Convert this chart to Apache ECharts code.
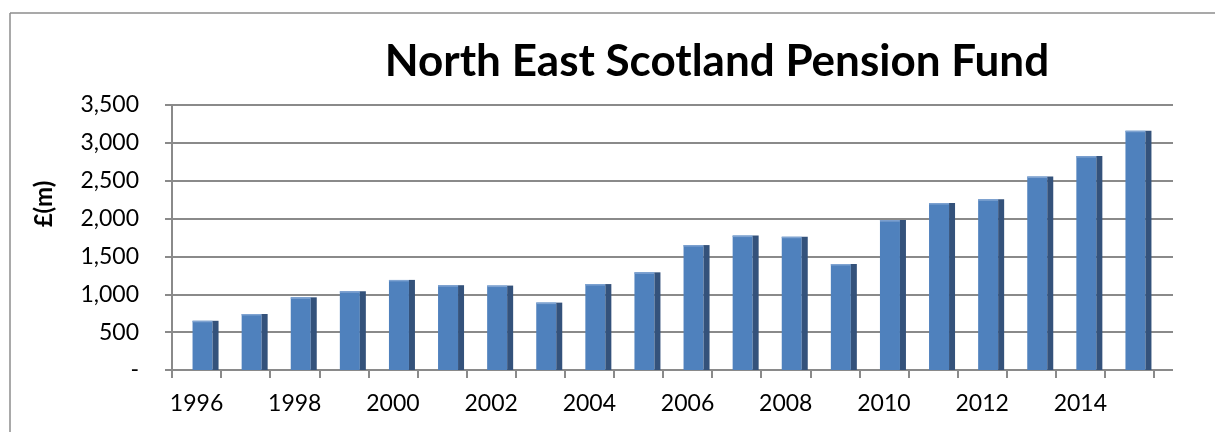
<!DOCTYPE html>
<html>
<head>
<meta charset="utf-8">
<script src="https://cdn.jsdelivr.net/npm/echarts@6/dist/echarts.min.js"></script>
<style>
html,body{margin:0;padding:0;background:#fff;}
#chart{width:1215px;height:432px;}
</style>
</head>
<body>
<div id="chart"></div>
<script>
const titleText = 'North East Scotland Pension Fund';
const yAxisTitle = '£(m)';
const years = ['1996','1997','1998','1999','2000','2001','2002','2003','2004','2005',
               '2006','2007','2008','2009','2010','2011','2012','2013','2014','2015'];
const fundValues = [650, 740, 960, 1040, 1190, 1120, 1115, 890, 1135, 1290,
                    1650, 1775, 1760, 1400, 1980, 2205, 2255, 2555, 2825, 3160];
const yMin = 0, yMax = 3500, yStep = 500;

const chart = echarts.init(document.getElementById('chart'), null, {renderer: 'canvas'});
const FONT = 'Lato';
const gridColor = '#8a8a8a';

const option = {
  animation: false,
  backgroundColor: '#fff',
  title: {
    text: titleText,
    left: 712, top: 35, textAlign: 'center',
    textStyle: {fontFamily: FONT, fontWeight: 'bold', fontSize: 44, color: '#000'}
  },
  graphic: [
    {type: 'line', shape: {x1: 10, y1: 13, x2: 1215, y2: 13}, style: {stroke: '#8c8c8c', lineWidth: 1.5}},
    {type: 'line', shape: {x1: 10, y1: 13, x2: 10, y2: 432}, style: {stroke: '#8c8c8c', lineWidth: 1.5}},
    {type: 'text', x: 44, y: 204, rotation: Math.PI / 2,
     style: {text: yAxisTitle, fontFamily: FONT, fontWeight: 'bold', fontSize: 24, fill: '#000',
             align: 'center', verticalAlign: 'middle'}}
  ],
  grid: [
    {left: 172, right: 42, top: 105, bottom: 62, containLabel: false},
    {left: 172, right: 61, top: 105, bottom: 62, containLabel: false}
  ],
  xAxis: [
    {type: 'category', gridIndex: 0, data: years, show: false},
    {type: 'category', gridIndex: 1, data: years, boundaryGap: true,
     axisLine: {show: true, lineStyle: {color: gridColor, width: 2}},
     axisTick: {show: true, alignWithLabel: false, interval: 0, length: 8, lineStyle: {color: gridColor, width: 2}},
     axisLabel: {interval: 1, margin: 22, fontFamily: FONT, fontSize: 23, color: '#000'}
    }
  ],
  yAxis: [
    {type: 'value', gridIndex: 0, min: yMin, max: yMax, interval: yStep,
     axisLine: {show: true, lineStyle: {color: gridColor, width: 2}},
     axisTick: {show: true, length: 7, lineStyle: {color: gridColor, width: 2}},
     splitLine: {show: true, lineStyle: {color: gridColor, width: 2}},
     axisLabel: {margin: 33, fontFamily: FONT, fontSize: 23, color: '#000',
       formatter: v => v === 0 ? '-' : v.toLocaleString('en-US')}
    },
    {type: 'value', gridIndex: 1, min: yMin, max: yMax, interval: yStep, show: false, splitLine: {show: false}}
  ],
  series: [{
    type: 'custom',
    xAxisIndex: 1, yAxisIndex: 1,
    data: fundValues.map((v, i) => [i, v]),
    renderItem: function (params, api) {
      const idx = api.value(0), val = api.value(1);
      const top = api.coord([idx, val]);
      const base = api.coord([idx, 0]);
      const cx = top[0];
      const fx = cx - 4, fw = 20, sw = 6;
      return {
        type: 'group',
        children: [
          {type: 'rect', shape: {x: fx, y: top[1], width: fw, height: base[1] - top[1]},
           style: {fill: '#4f81bd'}},
          {type: 'rect', shape: {x: fx, y: top[1], width: fw, height: 1.5},
           style: {fill: '#7fa3d1'}},
          {type: 'rect', shape: {x: fx + fw, y: top[1], width: sw, height: base[1] - top[1]},
           style: {fill: '#34527b'}}
        ]
      };
    }
  }]
};
chart.setOption(option);
</script>
</body>
</html>
